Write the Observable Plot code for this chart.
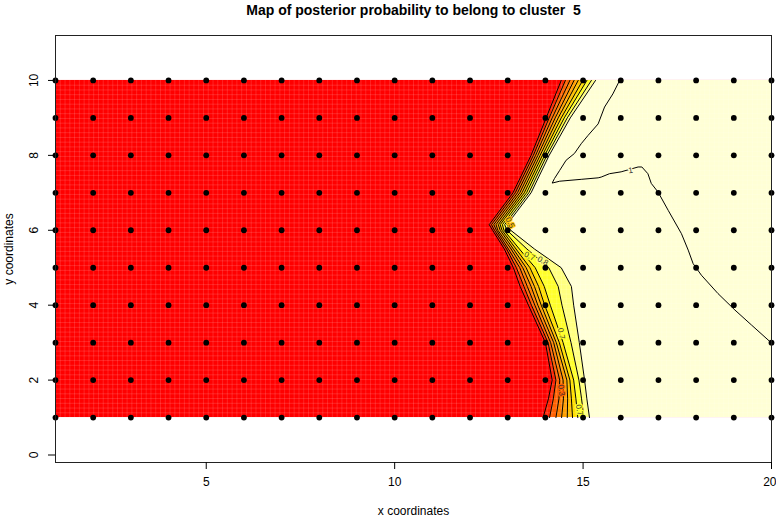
<!DOCTYPE html>
<html><head><meta charset="utf-8">
<script src="https://cdn.jsdelivr.net/npm/d3@7"></script>
<script src="https://cdn.jsdelivr.net/npm/@observablehq/plot@0.6"></script>
<style>
body{margin:0;background:#fff;}
svg{font-family:"Liberation Sans",Arial,sans-serif;}
</style>
</head><body><div id="chart"></div>
<script>
const title = "Map of posterior probability to belong to cluster  5";
const xLabel = "x coordinates";
const yLabel = "y coordinates";
const gridX = [1,2,3,4,5,6,7,8,9,10,11,12,13,14,15,16,17,18,19,20];
const gridY = [1,2,3,4,5,6,7,8,9,10];
const xTicks = [5,10,15,20];
const yTicks = [0,2,4,6,8,10];

// colour breaks (image, 12 heat colours) and contour levels
const breaks = [0.0833,0.1667,0.25,0.3333,0.4167,0.5,0.5833,0.6667,0.75,0.8333,0.9167];
const heat12 = ["#FF0000","#FF2000","#FF4000","#FF6000","#FF8000","#FF9F00","#FFBF00","#FFDF00","#FFFF00","#FFFF2A","#FFFF80","#FFFFD5"];
const levels = [0.1,0.2,0.3,0.4,0.5,0.6,0.7,0.8,0.9];

// x position where each contour level crosses each row y
const rowY  = [1, 1.5, 2, 3, 4, 4.5, 5, 5.5, 6, 6.15, 7, 8, 9, 10];
const lvl01 = [13.94,14.08,14.18,14.00,13.55,13.33,13.15,12.91,12.60,12.51,13.14,13.62,14.02,14.42];
const lvl02 = [14.11,14.21,14.28,14.07,13.63,13.43,13.23,12.97,12.65,12.57,13.20,13.68,14.10,14.53];
const lvl03 = [14.28,14.36,14.38,14.14,13.72,13.52,13.32,13.02,12.70,12.63,13.26,13.74,14.18,14.65];
const lvl04 = [14.43,14.48,14.47,14.22,13.80,13.62,13.40,13.09,12.74,12.69,13.32,13.80,14.26,14.76];
const lvl05 = [14.58,14.59,14.57,14.29,13.89,13.71,13.49,13.15,12.80,12.75,13.38,13.86,14.34,14.87];
const lvl06 = [14.72,14.69,14.65,14.37,13.98,13.82,13.59,13.22,12.85,12.80,13.44,13.92,14.42,14.99];
const lvl07 = [14.86,14.81,14.75,14.47,14.13,13.97,13.73,13.31,12.90,12.86,13.50,13.98,14.50,15.10];
const lvl08 = [15.02,14.96,14.89,14.68,14.44,14.34,14.09,13.51,12.98,12.92,13.56,14.04,14.58,15.22];
const lvl09 = [15.17,15.10,15.04,14.90,14.75,14.69,14.42,13.71,13.08,12.98,13.62,14.10,14.66,15.33];

// the level-1 contour
const c1X = [15.97,15.79,15.57,15.40,15.13,14.95,14.77,14.55,14.38,14.24,14.18,14.38,14.95,15.40,15.48,15.70,16.01,16.46,16.56,16.72,16.81,16.99,17.26,17.61,17.79,17.92,18.14,18.58,19.03,19.47,20.0];
const c1Y = [10.0,9.64,9.29,8.84,8.53,8.31,8.05,7.87,7.60,7.38,7.26,7.31,7.36,7.40,7.42,7.51,7.56,7.69,7.69,7.51,7.25,7.02,6.53,5.91,5.47,5.11,4.80,4.31,3.87,3.47,2.99];

// contour labels
const labText = ["1","0.7","0.8","0.7","0.3","0.5","0.7"];
const labX    = [16.26,13.58,13.93,14.42,14.42,13.06,14.90];
const labY    = [7.60,5.31,5.18,3.24,1.73,6.20,1.20];
const labRot  = [-8,25,30,80,82,65,80];
const labHalo = ["#FFFFD5","#FFFF2A","#FFFF80","#FFFF2A","#FF6000","#FFBF00","#FFFF2A"];

const lvlX = [lvl01,lvl02,lvl03,lvl04,lvl05,lvl06,lvl07,lvl08,lvl09];
const bands = levels.flatMap((lv, i) => rowY.map((y, j) => ({level: lv, y, x: lvlX[i][j], mid: lv + 0.05})));
const c1 = c1X.map((x, i) => ({x, y: c1Y[i]}));
const pts = gridY.flatMap(y => gridX.map(x => ({x, y})));
const x0 = d3.min(gridX), x1 = d3.max(gridX), y0 = d3.min(gridY), y1 = d3.max(gridY);
// faint cell seams of the raster image (decoration only)
const seamX = d3.range(x0, x1, (x1 - x0) / 150);
const seamY = d3.range(y0, y1, (y1 - y0) / 71);

const chart = Plot.plot({
  width: 776, height: 518,
  marginLeft: 55, marginRight: 5, marginTop: 35, marginBottom: 56,
  style: {fontFamily: "'Liberation Sans', Arial, sans-serif", fontSize: "12px", background: "#fff", color: "#000"},
  x: {domain: [1, 20]},
  y: {domain: [-0.2, 11.2]},
  color: {type: "threshold", domain: breaks, range: heat12},
  marks: [
    Plot.rect([{v: 0}], {x1: x0, x2: x1, y1: y0, y2: y1, fill: "v"}),
    Plot.areaX(bands, {y: "y", x1: "x", x2: x1, z: "level", fill: "mid", curve: "linear"}),
    Plot.ruleX(seamX, {y1: y0, y2: y1, stroke: "#fff", strokeOpacity: 0.2, strokeWidth: 0.7}),
    Plot.ruleY(seamY, {x1: x0, x2: x1, stroke: "#fff", strokeOpacity: 0.2, strokeWidth: 0.7}),
    Plot.line(bands, {x: "x", y: "y", z: "level", stroke: "#000", strokeWidth: 1}),
    Plot.line(c1, {x: "x", y: "y", stroke: "#000", strokeWidth: 1}),
    ...labText.map((t, i) => Plot.text([t], {x: labX[i], y: labY[i], text: d => d, rotate: labRot[i], fontSize: 8, fill: "#333", stroke: labHalo[i], strokeWidth: 2.5})),
    Plot.dot(pts, {x: "x", y: "y", r: 2.9, fill: "#000"}),
    Plot.frame({stroke: "#222"}),
    Plot.axisX({ticks: xTicks, tickSize: 7, tickFormat: () => "", label: null}),
    Plot.text(xTicks.slice(0, -1), {x: d => d, frameAnchor: "bottom", text: d => String(d), dy: 20, lineAnchor: "middle", textAnchor: "middle", fontSize: 12}),
    Plot.text(xTicks.slice(-1), {x: d => d, frameAnchor: "bottom", text: d => String(d), dy: 20, dx: 5, lineAnchor: "middle", textAnchor: "end", fontSize: 12}),
    Plot.axisY({ticks: yTicks, tickSize: 7, tickFormat: () => "", label: null}),
    Plot.text(yTicks, {frameAnchor: "left", y: d => d, text: d => String(d), dx: -21, rotate: -90, textAnchor: "middle", lineAnchor: "middle", fontSize: 12}),
    Plot.text([title], {frameAnchor: "top", dy: -25, lineAnchor: "middle", textAnchor: "middle", fontSize: 14, fontWeight: "bold"}),
    Plot.text([xLabel], {frameAnchor: "bottom", dy: 49, lineAnchor: "middle", textAnchor: "middle", fontSize: 12}),
    Plot.text([yLabel], {frameAnchor: "left", dx: -46, rotate: -90, lineAnchor: "middle", textAnchor: "middle", fontSize: 12})
  ]
});
document.getElementById("chart").appendChild(chart);
</script>
</body></html>
